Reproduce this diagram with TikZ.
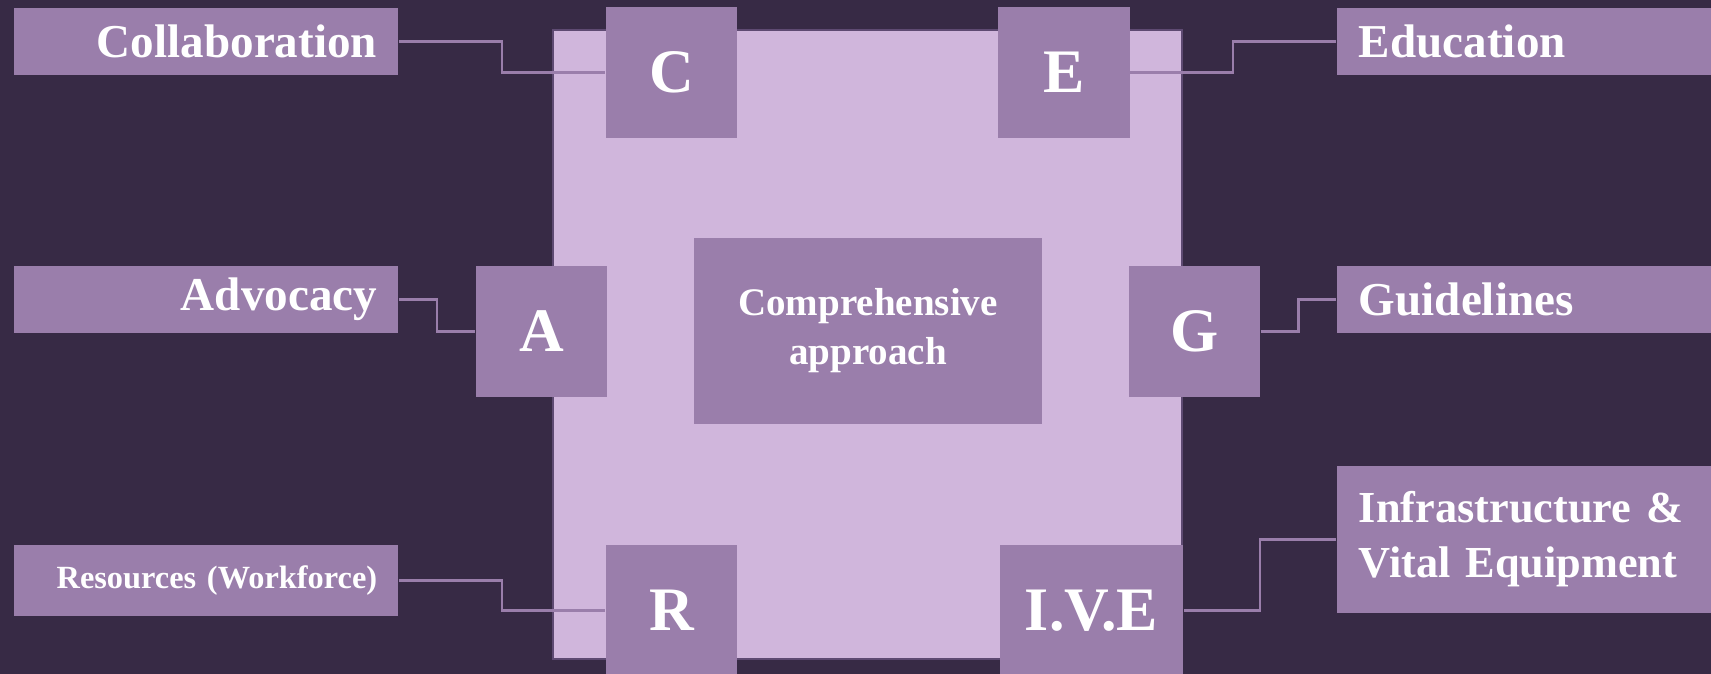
\documentclass[tikz,border=0pt]{standalone}
\usepackage{fontspec}
\setmainfont{Liberation Serif}[WordSpace=0.75]
\usepackage{xcolor}
\usepackage{tikz}
\usetikzlibrary{calc}
\definecolor{bg}{HTML}{372A45}
\definecolor{lilac}{HTML}{D0B6DC}
\definecolor{plum}{HTML}{9A7EAB}
\definecolor{edge}{HTML}{5E4A72}
\definecolor{text}{HTML}{FFFFFF}
\tikzset{
  frame/.style={fill=lilac, draw=edge, line width=0.6pt},
  tile/.style={fill=plum, text=text, inner sep=0pt},
  lbl/.style={tile, minimum width=3.84cm, minimum height=0.67cm, text width=3.42cm, font=\bfseries\fontsize{13.4}{16}\selectfont},
  lblL/.style={lbl, align=right},
  lblR/.style={lbl, minimum width=3.74cm, text width=3.30cm, align=left},
  letter/.style={tile, minimum width=1.31cm, minimum height=1.31cm, font=\bfseries\fontsize{17.6}{20}\selectfont},
  link/.style={draw=plum, line width=0.6pt}
}

\begin{document}
\begin{tikzpicture}[x=0.01cm, y=-0.01cm]
  \useasboundingbox (0,0) rectangle (1711,674);
  \fill[bg] (0,0) rectangle (1711,674);
  \node[frame, minimum width=6.29cm, minimum height=6.29cm] (core) at (867.5,344.5) {};

  \node[tile, minimum width=3.48cm, minimum height=1.86cm, align=center,
        font=\bfseries\fontsize{11.1}{13.9}\selectfont] (hub) at (868,331) {Comprehensive\\approach};

  \node[letter] (C) at (671.5,72.5) {C};
  \node[letter] (E) at (1064,72.5) {E};
  \node[letter] (A) at (541.5,331.5) {A};
  \node[letter] (G) at (1194.5,331.5) {G};
  \node[letter] (R) at (671.5,610.5) {R};
  \node[letter, minimum width=1.83cm] (IVE) at (1091.5,610.5) {I.V.E};

  \node[lblL] (collab) at (206,41.5) {Collaboration};
  \node[lblL] (advoc) at (206,299.5) {Advocacy};
  \node[lblL, minimum height=0.71cm, font=\bfseries\fontsize{9.2}{11}\selectfont] (resrc) at (206,580.5) {Resources (Workforce)};
  \node[lblR] (educ) at (1524,41.5) {Education};
  \node[lblR] (guide) at (1524,299.5) {Guidelines};
  \node[lblR, minimum height=1.47cm, font=\bfseries\fontsize{12.6}{15.6}\selectfont] (infra) at (1524,539.5) {Infrastructure \&\\Vital Equipment};

  \foreach \a/\b in {collab/C, advoc/A, resrc/R, E/educ, G/guide, IVE/infra}
    \draw[link] (\a.east) -| ($(\a.east)!.5!(\b.west)$) |- (\b.west);
\end{tikzpicture}
\end{document}
